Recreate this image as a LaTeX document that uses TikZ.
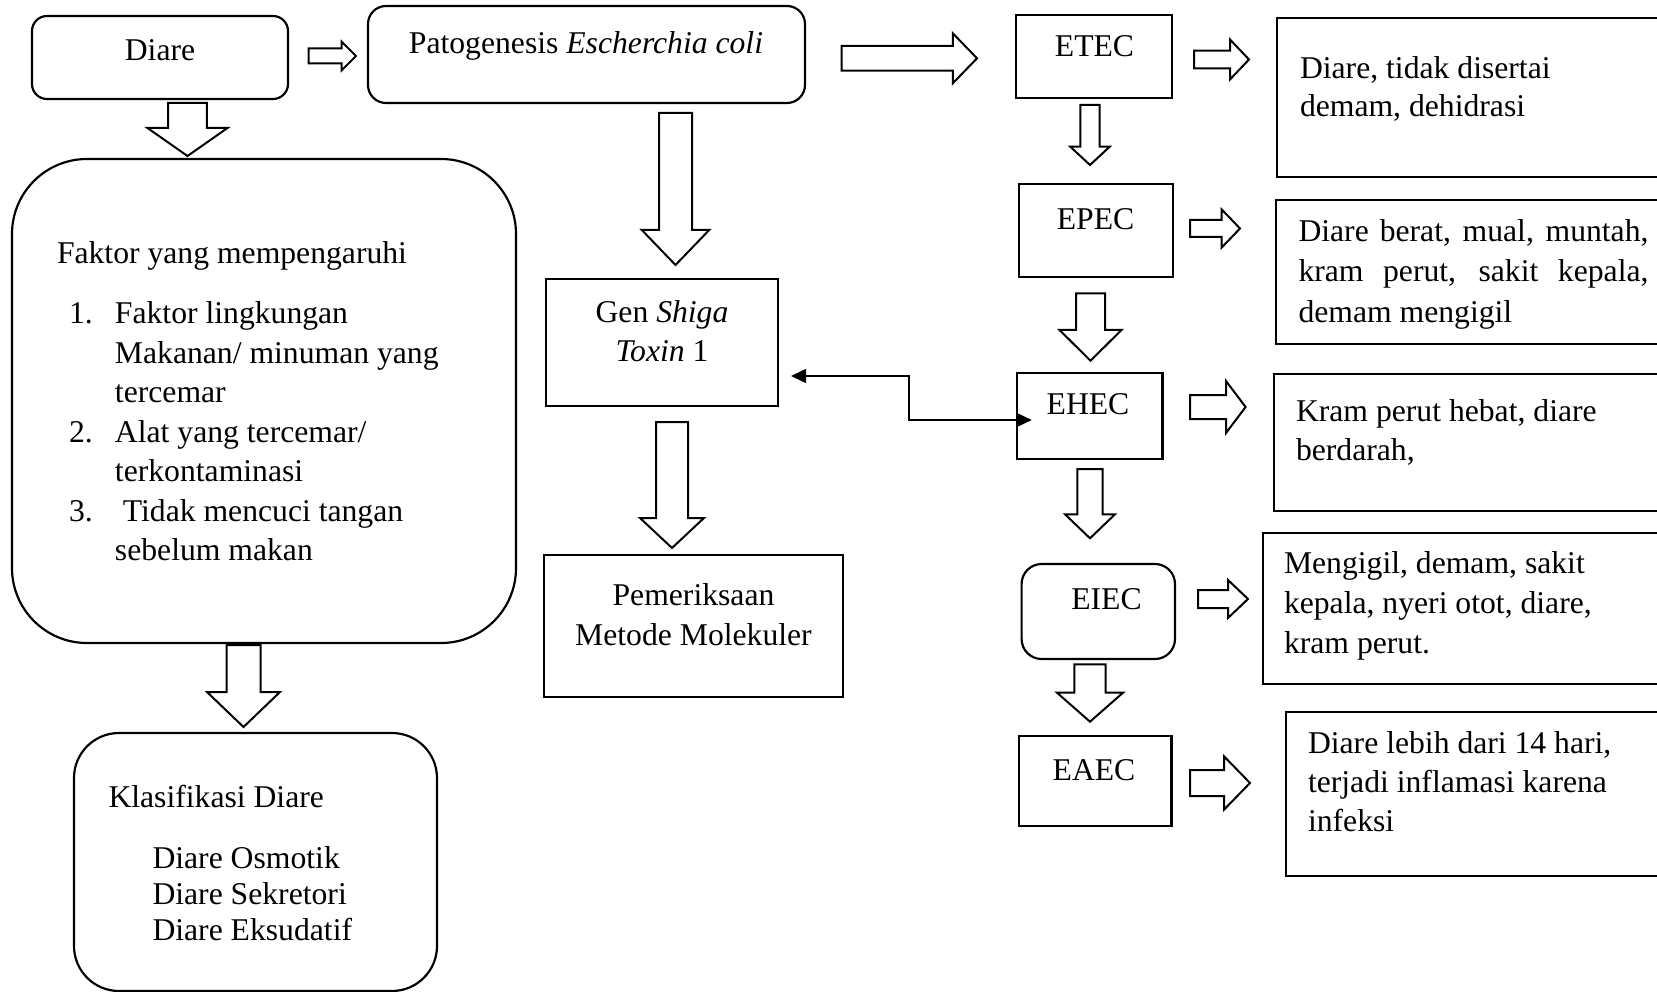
\documentclass[tikz,border=0pt]{standalone}
\usepackage{fontspec}
\setmainfont{Liberation Serif}
\usetikzlibrary{arrows.meta,calc}
\newcommand\bx[6][]{\node[box,#1,minimum width={(#5-#3)*0.6pt},minimum height={(#6-#4)*0.6pt}] (#2) at ({(#3+#5)/2},{(#4+#6)/2}) {};}
% horizontal block arrow: tail, head start, tip, y centre, shaft half, head half
\newcommand\harrow[6]{\draw[blockarrow] (#1,#4-#5) -- (#2,#4-#5) -- (#2,#4-#6) -- (#3,#4) -- (#2,#4+#6) -- (#2,#4+#5) -- (#1,#4+#5) -- cycle;}
% vertical block arrow: x centre, top, head start, tip, shaft half, head half
\newcommand\varrow[6]{\draw[blockarrow] (#1-#5,#2) -- (#1+#5,#2) -- (#1+#5,#3) -- (#1+#6,#3) -- (#1,#4) -- (#1-#6,#3) -- (#1-#5,#3) -- cycle;}
\newcommand\txtsize[1]{\fontsize{19}{#1}\selectfont}
\begin{document}
\begin{tikzpicture}[x=0.6pt,y=-0.6pt,
  box/.style={draw=black,line width=1.3pt,inner sep=0pt,outer sep=0pt,rectangle},
  blockarrow/.style={draw=black,line width=1.2pt,fill=white,line join=miter},
  txt/.style={inner sep=0pt,outer sep=0pt,font=\txtsize{23}},
  conn/.style={draw=black,line width=1pt,{Triangle[length=9pt,width=8.4pt]}-{Triangle[length=9pt,width=8.4pt]}}]
\path[use as bounding box] (0,0) rectangle (1657,992);
\clip (0,0) rectangle (1657,992);
\fill[white] (0,0) rectangle (1657,992);

% boxes
\bx[rounded corners=9pt]{diare}{32}{16}{288}{99}
\bx[rounded corners=10.8pt]{pato}{368}{6}{805}{103}
\bx[rounded corners=45pt]{faktor}{12}{159}{516}{643}
\bx{gen}{546}{279}{778}{406}
\bx{pem}{544}{555}{843}{697}
\bx[rounded corners=27pt]{klas}{74}{733}{437}{991}
\bx{etec}{1016}{15}{1172}{98}
\bx{epec}{1019}{184}{1173}{277}
\bx{ehec}{1016.7}{373}{1162.5}{459}
\bx[rounded corners=12pt]{eiec}{1021.6}{564}{1175}{659}
\bx{eaec}{1019}{736}{1171.5}{825.7}
\bx{bA}{1277}{18}{1690}{177}
\bx{bB}{1276}{200}{1690}{344}
\bx{bC}{1273.6}{374}{1690}{511}
\bx{bD}{1263}{533}{1690}{684}
\bx{bE}{1286}{712}{1690}{875.7}

% texts
\node[txt,anchor=base] (tdiare) at (160,61) {Diare};
\node[txt,anchor=base] (tpato) at (586,53.5) {Patogenesis \textit{Escherchia coli}};
\node[txt,anchor=base west] (tfaktor) at (57,264) {Faktor yang mempengaruhi};
\node[txt,anchor=base west] (tlist) at (69,324) {\parbox[t]{420pt}{\txtsize{23.7}%
\makebox[27.6pt][l]{1.}Faktor lingkungan\\
\hspace*{27.6pt}Makanan/ minuman yang\\
\hspace*{27.6pt}tercemar\\
\makebox[27.6pt][l]{2.}Alat yang tercemar/\\
\hspace*{27.6pt}terkontaminasi\\
\makebox[27.6pt][l]{3.}\ Tidak mencuci tangan\\
\hspace*{27.6pt}sebelum makan}};
\node[txt,anchor=base] (tgen) at (662,322) {\parbox[t]{130pt}{\centering\txtsize{24}Gen \textit{Shiga}\\\textit{Toxin} 1}};
\node[txt,anchor=base] (tpem) at (693.5,605) {\parbox[t]{170pt}{\centering\txtsize{24}Pemeriksaan\\Metode Molekuler}};
\node[txt,anchor=base west] (tklas) at (108.5,807) {Klasifikasi Diare};
\node[txt,anchor=base west] (tklist) at (152.5,868.3) {\parbox[t]{150pt}{\txtsize{21.8}Diare Osmotik\\Diare Sekretori\\Diare Eksudatif}};
\node[txt,anchor=base] (tetec) at (1094.5,56.7) {ETEC};
\node[txt,anchor=base] (tepec) at (1095.5,230) {EPEC};
\node[txt,anchor=base] (tehec) at (1088,415) {EHEC};
\node[txt,anchor=base] (teiec) at (1106.5,609.3) {EIEC};
\node[txt,anchor=base] (teaec) at (1094,780) {EAEC};
\node[txt,anchor=base west] (tA) at (1300,78.5) {\parbox[t]{220pt}{\txtsize{23}Diare, tidak disertai\\demam, dehidrasi}};
\node[txt,anchor=base west] (tB) at (1298.5,241.5) {\parbox[t]{220pt}{\txtsize{24.2}\makebox[210pt][s]{Diare berat, mual, muntah,}\\\makebox[210pt][s]{kram perut, sakit kepala,}\\demam mengigil}};
\node[txt,anchor=base west] (tC) at (1296,421.7) {\parbox[t]{220pt}{\txtsize{23}Kram perut hebat, diare\\berdarah,}};
\node[txt,anchor=base west] (tD) at (1284,573.3) {\parbox[t]{220pt}{\txtsize{24}Mengigil, demam, sakit\\kepala, nyeri otot, diare,\\kram perut.}};
\node[txt,anchor=base west] (tE) at (1308,753.3) {\parbox[t]{220pt}{\txtsize{23.5}Diare lebih dari 14 hari,\\terjadi inflamasi karena\\infeksi}};

% block arrows
\harrow{308.6}{341.5}{356}{56}{7.5}{14.5}
\harrow{841.6}{952.8}{977}{58.3}{12.3}{25}
\harrow{1194}{1230}{1249}{59.5}{8.8}{20}
\harrow{1190}{1221.7}{1240}{228.5}{8.5}{19}
\harrow{1190}{1226}{1245.6}{407}{12}{26}
\harrow{1198}{1228}{1248}{599}{9}{19}
\harrow{1190}{1224}{1250}{783}{13}{26.7}

\varrow{187.5}{103}{128}{156}{19.3}{40}
\varrow{675.5}{113}{230}{265}{16.5}{33.7}
\varrow{672}{422}{518}{548}{16}{32}
\varrow{243.5}{645}{692}{727}{17}{36.5}
\varrow{1090}{105}{146.7}{165}{9.7}{19.7}
\varrow{1090.5}{293.3}{330}{360.7}{14.5}{31}
\varrow{1090}{469}{514.3}{538.3}{12.7}{25}
\varrow{1090}{664.3}{692.7}{721.7}{15.7}{33}

% connector between Gen Shiga Toxin 1 and EHEC
\coordinate (cgen) at ($(gen.east)+(13,33.5)$);
\coordinate (cehec) at ($(ehec.west)+(15,4)$);
\coordinate (cmid) at (909,398);
\draw[conn] (cgen) -| (cmid) |- (cehec);
\end{tikzpicture}
\end{document}
